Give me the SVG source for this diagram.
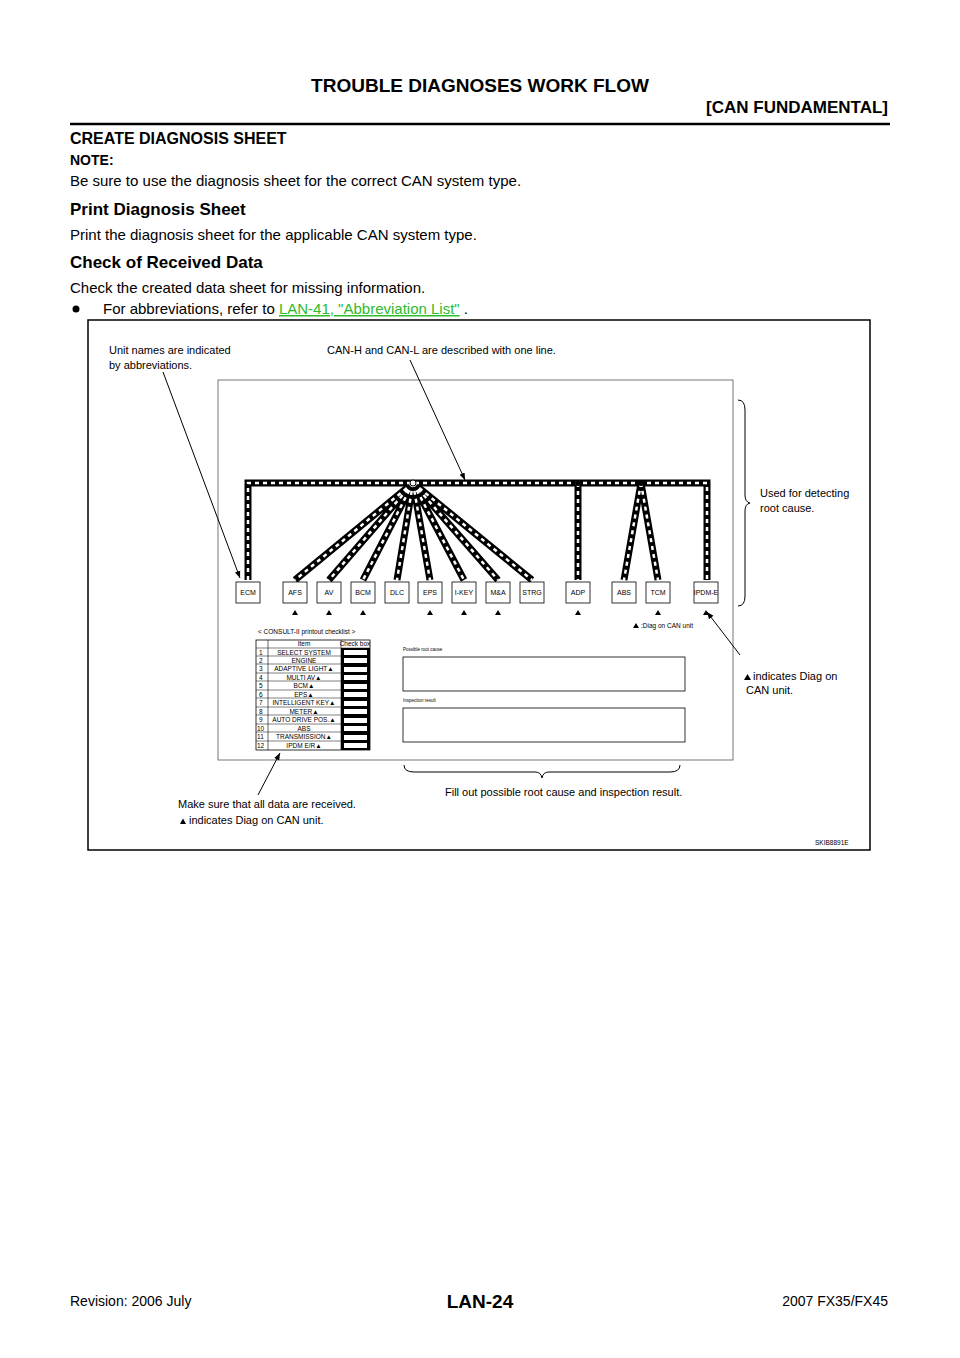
<svg xmlns="http://www.w3.org/2000/svg" width="960" height="1358" viewBox="0 0 960 1358">
<style>
text{font-family:"Liberation Sans",Arial,sans-serif;fill:#000}
.b{font-weight:bold}
.bx{fill:#fff;stroke:#000;stroke-width:0.8}
.bl{font-size:7px;text-anchor:middle}
.wb{stroke:#000;stroke-width:7;fill:none}
.wd{stroke:#fff;stroke-width:2.5;stroke-dasharray:4 4;fill:none}
.ld{stroke:#000;stroke-width:1;fill:none}
.tb{font-size:6.5px;text-anchor:middle}
</style>
<defs>
<marker id="ar" viewBox="0 0 10 10" refX="10" refY="5" markerWidth="7" markerHeight="7" orient="auto"><path d="M0,1 L10,5 L0,9 z" fill="#000"/></marker>
</defs>
<rect width="960" height="1358" fill="#fff"/>
<g id="header">
<text x="480" y="92" class="b" font-size="19" text-anchor="middle">TROUBLE DIAGNOSES WORK FLOW</text>
<text x="888" y="113" class="b" font-size="17" text-anchor="end">[CAN FUNDAMENTAL]</text>
<line x1="70" y1="124" x2="890" y2="124" stroke="#000" stroke-width="2.5"/>
<text x="70" y="144" class="b" font-size="16">CREATE DIAGNOSIS SHEET</text>
<text x="70" y="165" class="b" font-size="14">NOTE:</text>
<text x="70" y="186" font-size="15">Be sure to use the diagnosis sheet for the correct CAN system type.</text>
<text x="70" y="215" class="b" font-size="17">Print Diagnosis Sheet</text>
<text x="70" y="240" font-size="15">Print the diagnosis sheet for the applicable CAN system type.</text>
<text x="70" y="268" class="b" font-size="17">Check of Received Data</text>
<text x="70" y="293" font-size="15">Check the created data sheet for missing information.</text>
<circle cx="76" cy="309" r="3.5" fill="#000"/>
<text x="103" y="314" font-size="15">For abbreviations, refer to <tspan fill="#2bbb2b" text-decoration="underline">LAN-41, "Abbreviation List"</tspan> .</text>
</g>
<g id="frame">
<rect x="88" y="320" width="782" height="530" fill="none" stroke="#000" stroke-width="1.5"/>
<rect x="218" y="380" width="515" height="380" fill="none" stroke="#555" stroke-width="0.8"/>
</g>
<g id="connectors">
<path class="wb" d="M248,580 V483 H707 V580 M578,483 V580 M641,483 L624,580 M641,483 L658,580"/>
<path class="wb" d="M413,483 L295,580 M413,483 L329,580 M413,483 L363,580 M413,483 L397,580 M413,483 L430,580 M413,483 L464,580 M413,483 L498,580 M413,483 L532,580"/>
<path d="M396,497 A20,20 0 0 1 430,497 L413,483 z" fill="#000"/>
<path class="wd" d="M248,580 V483 H707 V580 M578,483 V580 M641,483 L624,580 M641,483 L658,580"/>
<path class="wd" d="M413,483 L295,580 M413,483 L329,580 M413,483 L363,580 M413,483 L397,580 M413,483 L430,580 M413,483 L464,580 M413,483 L498,580 M413,483 L532,580"/>
<circle cx="413" cy="483" r="3" fill="#fff" stroke="#000"/>
<circle cx="578" cy="483" r="3" fill="#000"/>
<circle cx="641" cy="483" r="3" fill="#000"/>
<line class="ld" x1="163" y1="372" x2="240" y2="578" marker-end="url(#ar)"/>
<line class="ld" x1="410" y1="360" x2="465" y2="480" marker-end="url(#ar)"/>
<line class="ld" x1="740" y1="655" x2="707" y2="612" marker-end="url(#ar)"/>
<line class="ld" x1="258" y1="795" x2="280" y2="753" marker-end="url(#ar)"/>
<path class="ld" d="M738,400 Q745,400 745,410 V495 Q745,502 750,503 Q745,504 745,511 V596 Q745,606 738,606"/>
<path class="ld" d="M404,765 Q404,772 414,772 H535 Q541,772 542,778 Q543,772 549,772 H670 Q680,772 680,765"/>
</g>
<g id="units">
<rect class="bx" x="236" y="582" width="24" height="21"/><text class="bl" x="248" y="595">ECM</text>
<rect class="bx" x="283" y="582" width="24" height="21"/><text class="bl" x="295" y="595">AFS</text>
<rect class="bx" x="317" y="582" width="24" height="21"/><text class="bl" x="329" y="595">AV</text>
<rect class="bx" x="351" y="582" width="24" height="21"/><text class="bl" x="363" y="595">BCM</text>
<rect class="bx" x="385" y="582" width="24" height="21"/><text class="bl" x="397" y="595">DLC</text>
<rect class="bx" x="418" y="582" width="24" height="21"/><text class="bl" x="430" y="595">EPS</text>
<rect class="bx" x="452" y="582" width="24" height="21"/><text class="bl" x="464" y="595">I-KEY</text>
<rect class="bx" x="486" y="582" width="24" height="21"/><text class="bl" x="498" y="595">M&amp;A</text>
<rect class="bx" x="520" y="582" width="24" height="21"/><text class="bl" x="532" y="595">STRG</text>
<rect class="bx" x="566" y="582" width="24" height="21"/><text class="bl" x="578" y="595">ADP</text>
<rect class="bx" x="612" y="582" width="24" height="21"/><text class="bl" x="624" y="595">ABS</text>
<rect class="bx" x="646" y="582" width="24" height="21"/><text class="bl" x="658" y="595">TCM</text>
<rect class="bx" x="694" y="582" width="24" height="21"/><text class="bl" x="706" y="595" font-size="6">IPDM-E</text>
</g>
<g id="triangles" fill="#000">
<path d="M292,615 l3,-5 l3,5z M326,615 l3,-5 l3,5z M360,615 l3,-5 l3,5z M427,615 l3,-5 l3,5z M461,615 l3,-5 l3,5z M495,615 l3,-5 l3,5z M575,615 l3,-5 l3,5z M655,615 l3,-5 l3,5z M703,615 l3,-5 l3,5z M633,628 l3,-5 l3,5z"/>
</g>
<g id="labels" font-size="11">
<text x="109" y="354">Unit names are indicated</text>
<text x="109" y="369">by abbreviations.</text>
<text x="327" y="354">CAN-H and CAN-L are described with one line.</text>
<text x="760" y="497">Used for detecting</text>
<text x="760" y="512">root cause.</text>
<text x="753" y="680">indicates Diag on</text>
<path d="M744,680 l3.5,-6 l3.5,6z" fill="#000"/>
<text x="746" y="694">CAN unit.</text>
<text x="445" y="796">Fill out possible root cause and inspection result.</text>
<text x="178" y="808">Make sure that all data are received.</text>
<path d="M180,824 l3,-5.5 l3,5.5z" fill="#000"/>
<text x="189" y="824">indicates Diag on CAN unit.</text>
<text x="641" y="628" font-size="6.5">:Diag on CAN unit</text>
<text x="815" y="845" font-size="6.5">SKIB8891E</text>
</g>
<g id="checklist">
<text x="258" y="634" font-size="6.5">&lt; CONSULT-II printout checklist &gt;</text>
<rect x="256" y="640" width="114" height="110" fill="none" stroke="#000" stroke-width="0.8"/>
<line x1="268" y1="640" x2="268" y2="750" stroke="#000" stroke-width="0.6"/>
<line x1="341" y1="640" x2="341" y2="750" stroke="#000" stroke-width="0.6"/>
<path d="M256,648 H370 M256,656 H341 M256,664 H341 M256,673 H341 M256,681 H341 M256,690 H341 M256,698 H341 M256,707 H341 M256,715 H341 M256,724 H341 M256,732 H341 M256,741 H341" stroke="#000" stroke-width="0.5"/>
<rect x="341" y="648" width="29" height="102" fill="#000"/>
<g fill="#fff"><rect x="344" y="650" width="23" height="5"/><rect x="344" y="658" width="23" height="5"/><rect x="344" y="667" width="23" height="5"/><rect x="344" y="675" width="23" height="5"/><rect x="344" y="684" width="23" height="5"/><rect x="344" y="692" width="23" height="5"/><rect x="344" y="701" width="23" height="5"/><rect x="344" y="709" width="23" height="5"/><rect x="344" y="718" width="23" height="5"/><rect x="344" y="726" width="23" height="5"/><rect x="344" y="735" width="23" height="5"/><rect x="344" y="743" width="23" height="5"/></g>
<text x="304" y="646" class="tb">Item</text>
<text x="355" y="646" class="tb" font-size="4.5">Check box</text>
<g font-size="6.5"><text x="259" y="655">1</text><text x="259" y="663">2</text><text x="259" y="671">3</text><text x="259" y="680">4</text><text x="259" y="688">5</text><text x="259" y="697">6</text><text x="259" y="705">7</text><text x="259" y="714">8</text><text x="259" y="722">9</text><text x="257" y="731">10</text><text x="257" y="739">11</text><text x="257" y="748">12</text></g>
<text class="tb" x="304" y="655">SELECT SYSTEM</text>
<text class="tb" x="304" y="663">ENGINE</text>
<text class="tb" x="304" y="671">ADAPTIVE LIGHT▲</text>
<text class="tb" x="304" y="680">MULTI AV▲</text>
<text class="tb" x="304" y="688">BCM▲</text>
<text class="tb" x="304" y="697">EPS▲</text>
<text class="tb" x="304" y="705">INTELLIGENT KEY▲</text>
<text class="tb" x="304" y="714">METER▲</text>
<text class="tb" x="304" y="722">AUTO DRIVE POS.▲</text>
<text class="tb" x="304" y="731">ABS</text>
<text class="tb" x="304" y="739">TRANSMISSION▲</text>
<text class="tb" x="304" y="748">IPDM E/R▲</text>
</g>
<g id="result-boxes">
<text x="403" y="651" font-size="4.5">Possible root cause</text>
<rect x="403" y="657" width="282" height="34" fill="none" stroke="#000" stroke-width="0.8"/>
<text x="403" y="702" font-size="4.5">Inspection result</text>
<rect x="403" y="708" width="282" height="34" fill="none" stroke="#000" stroke-width="0.8"/>
</g>
<g id="footer">
<text x="480" y="1308" class="b" font-size="19" text-anchor="middle">LAN-24</text>
<text x="70" y="1306" font-size="14">Revision: 2006 July</text>
<text x="888" y="1306" font-size="14" text-anchor="end">2007 FX35/FX45</text>
</g>
</svg>
